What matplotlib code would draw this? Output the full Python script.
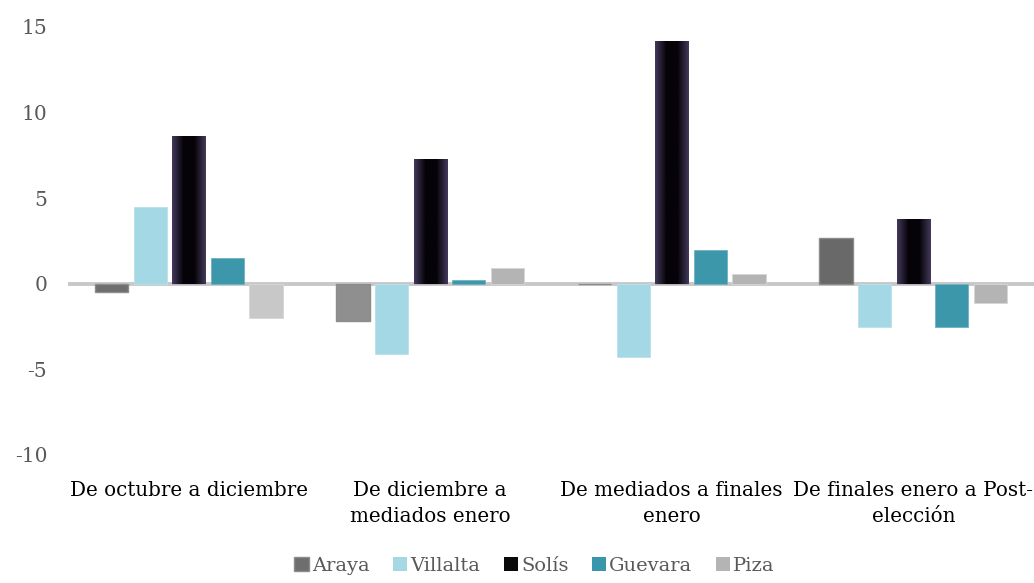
import matplotlib.pyplot as plt
from matplotlib.colors import LinearSegmentedColormap
from matplotlib.patches import Patch
import numpy as np

categories = ["De octubre a diciembre", "De diciembre a\nmediados enero",
              "De mediados a finales\nenero", "De finales enero a Post-\nelección"]
series = ["Araya", "Villalta", "Solís", "Guevara", "Piza"]
araya = [-0.5, -2.15, 0.0, 2.7]
villalta = [4.5, -4.1, -4.3, -2.5]
solis = [8.65, 7.3, 14.2, 3.8]
guevara = [1.5, 0.2, 2.0, -2.5]
piza = [-2.0, 0.9, 0.6, -1.1]

araya_colors = ["#6e6e6e", "#8f8f8f", "#8f8f8f", "#696969"]
piza_colors = ["#c8c8c8", "#b4b4b4", "#b4b4b4", "#b4b4b4"]

plt.rcParams['font.family'] = ['DejaVu Serif']
plt.rcParams['axes.unicode_minus'] = False

fig = plt.figure(figsize=(10.34, 5.83), dpi=100)
ax = fig.add_axes([68 / 1034, 1 - 455 / 583, 1 - 68 / 1034, (455 - 27) / 583])

x = np.arange(len(categories))
w = 0.137
step = 0.16

ax.bar(x - 2 * step, araya, w, color=araya_colors, edgecolor="#8c8c8c", linewidth=1, zorder=2)
ax.bar(x - step, villalta, w, color="#a5d8e5", edgecolor="#b8e2ec", linewidth=0.6, zorder=2)
sol_bars = ax.bar(x, solis, w, color="#08060c", edgecolor="#c9c4d0", linewidth=0.6, zorder=2)
ax.bar(x + step, guevara, w, color="#3d97ab", edgecolor="#6fb3c2", linewidth=0.6, zorder=2)
ax.bar(x + 2 * step, piza, w, color=piza_colors, edgecolor="#d6d6d6", linewidth=0.6, zorder=2)

# gradient shading on the Solís bars
cmap = LinearSegmentedColormap.from_list("sol", ["#43385a", "#050308", "#050308", "#43385a"])
grad = np.linspace(0, 1, 64).reshape(1, -1)
for b in sol_bars:
    im = ax.imshow(grad, cmap=cmap, aspect="auto", zorder=3,
                   extent=(b.get_x(), b.get_x() + b.get_width(), b.get_y(), b.get_y() + b.get_height()))
    im.set_clip_path(b)

ax.axhline(0, color="#c8c8c8", linewidth=2.8, zorder=1)

ax.set_xlim(-0.5, 3.5)
ax.set_ylim(-10, 15)
ax.set_yticks([-10, -5, 0, 5, 10, 15])
ax.tick_params(axis="y", length=0, pad=15, labelsize=14.5, labelcolor="#595959")
ax.set_xticks(x)
ax.set_xticklabels(categories, fontsize=14.3, color="black", linespacing=1.45)
ax.tick_params(axis="x", length=0, pad=19)
for s in ax.spines.values():
    s.set_visible(False)

handles = [Patch(facecolor="#6e6e6e", edgecolor="#8c8c8c"),
           Patch(facecolor="#a5d8e5"),
           Patch(facecolor="#0a0a0a"),
           Patch(facecolor="#3a97ab"),
           Patch(facecolor="#b4b4b4")]
fig.legend(handles, series, loc="center", bbox_to_anchor=(0.517, 0.03), ncol=5, frameon=False,
           fontsize=14, handlelength=0.75, handleheight=0.75, handletextpad=0.15,
           columnspacing=1.2, labelcolor="#595959", borderpad=0.1)

fig.savefig("out.png", dpi=100)
